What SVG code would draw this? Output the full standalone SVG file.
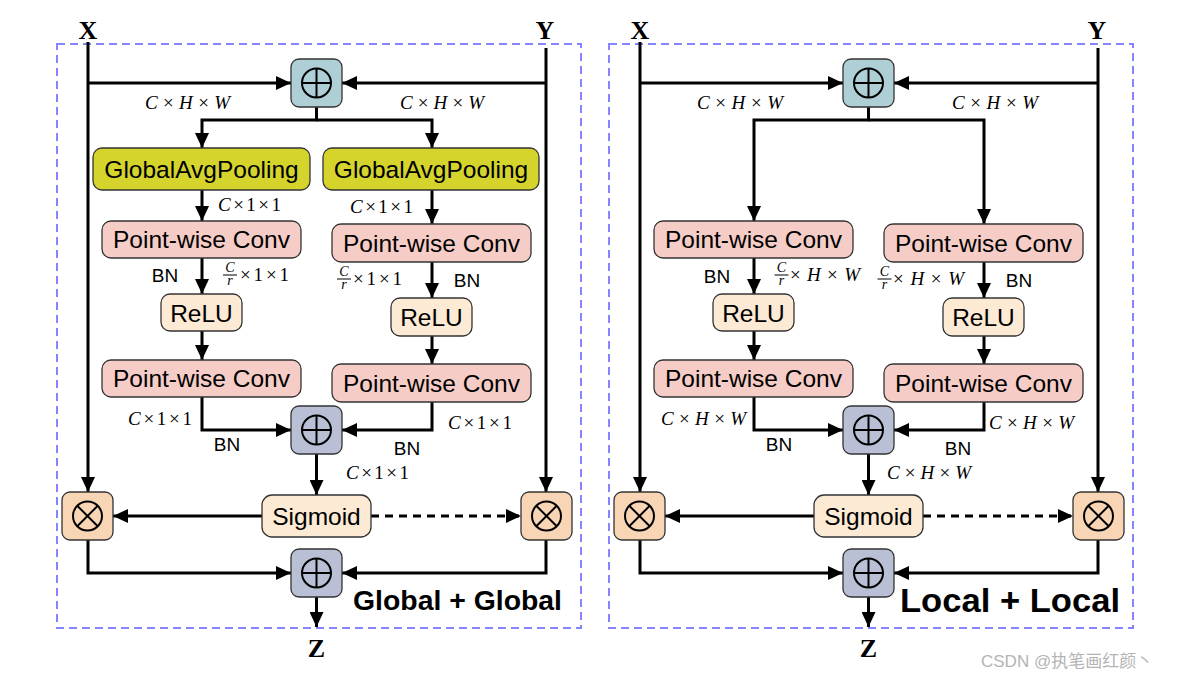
<svg xmlns="http://www.w3.org/2000/svg" xmlns:xlink="http://www.w3.org/1999/xlink" width="1180" height="679" viewBox="0 0 1180 679">
<style>
.frame{fill:none;stroke:#8585ff;stroke-width:2;stroke-dasharray:8,5}
.box{stroke:#333;stroke-width:1.3}
.gap{fill:#d4d42c}
.pw{fill:#f6cdc6}
.soft{fill:#fdead5}
.mul{fill:#f8d5b5}
.addt{fill:#aecfd5}
.addg{fill:#b9c0d5}
.lbl{font-family:"Liberation Sans",Arial,sans-serif;font-size:24.5px;text-anchor:middle;fill:#000}
.bn{font-family:"Liberation Sans",Arial,sans-serif;font-size:19px;text-anchor:middle;fill:#000}
.m{font-family:"Liberation Serif","Times New Roman",serif;font-size:19px;fill:#000}
.i{font-style:italic}
.fr{font-family:"Liberation Serif","Times New Roman",serif;font-size:14px;font-style:italic;text-anchor:middle}
.bar{stroke:#000;stroke-width:1}
.io{font-family:"Liberation Serif","Times New Roman",serif;font-size:26px;font-weight:bold;text-anchor:middle}
.title{font-family:"Liberation Sans",Arial,sans-serif;font-weight:bold;fill:#000}
.conn path{fill:none;stroke:#000;stroke-width:3;marker-end:url(#ah)}
.conn path.plain{marker-end:none}
.conn path.dash{stroke-dasharray:8,6}
.sym{fill:none;stroke:#000;stroke-width:2}
</style>
<defs>
<marker id="ah" markerUnits="userSpaceOnUse" markerWidth="15" markerHeight="14" refX="15" refY="7" orient="auto">
<path d="M0,0 L15,7 L0,14 z" fill="#000"/>
</marker>
<g id="oplus"><circle class="sym" r="14.5"/><path class="sym" d="M-14.5,0H14.5M0,-14.5V14.5"/></g>
<g id="otimes"><circle class="sym" r="14.5"/><path class="sym" d="M-10.25,-10.25L10.25,10.25M-10.25,10.25L10.25,-10.25"/></g>
</defs>
<rect width="1180" height="679" fill="#fff"/>

<!-- frames -->
<rect class="frame" x="57" y="44" width="524" height="584"/>
<rect class="frame" x="609" y="44" width="524" height="584"/>

<!-- connectors -->
<g id="connectors" class="conn">
<!-- left panel -->
<path d="M88,42 V492"/>
<path d="M88,83 H291"/>
<path d="M546,48 V492"/>
<path d="M546,83 H342"/>
<path d="M316.5,107 V120 H202 V148"/>
<path d="M316.5,120 H432 V148"/>
<path d="M202,190 V221"/>
<path d="M432,190 V224"/>
<path d="M202,258 V294"/>
<path d="M432,262 V298"/>
<path d="M202,331 V360"/>
<path d="M432,336 V364"/>
<path d="M202,397 V430 H291"/>
<path d="M432,402 V430 H342"/>
<path d="M316.5,454 V495"/>
<path d="M262,516 H113"/>
<path class="dash" d="M371,516 H521"/>
<path d="M88,540 V573 H291"/>
<path d="M546,540 V573 H342"/>
<path d="M316.5,597 V627"/>
<!-- right panel -->
<path d="M640,42 V492"/>
<path d="M640,83 H843"/>
<path d="M1098,48 V492"/>
<path d="M1098,83 H894"/>
<path d="M868.5,107 V120 H754 V221"/>
<path d="M868.5,120 H984 V224"/>
<path d="M754,258 V294"/>
<path d="M984,262 V298"/>
<path d="M754,331 V360"/>
<path d="M984,336 V364"/>
<path d="M754,397 V430 H843"/>
<path d="M984,402 V430 H894"/>
<path d="M868.5,454 V495"/>
<path d="M814,516 H665"/>
<path class="dash" d="M923,516 H1073"/>
<path d="M640,540 V573 H843"/>
<path d="M1098,540 V573 H894"/>
<path d="M868.5,597 V627"/>
</g>

<!-- ===== Left panel nodes ===== -->
<g id="L-add-top"><rect class="box addt" x="291" y="59" width="51" height="48" rx="8"/><use href="#oplus" x="316.5" y="83"/></g>
<g id="L-gap1"><rect class="box gap" x="93" y="148" width="217" height="42" rx="9"/><text class="lbl" x="201.5" y="178">GlobalAvgPooling</text></g>
<g id="L-gap2"><rect class="box gap" x="323" y="148" width="216" height="42" rx="9"/><text class="lbl" x="431" y="178">GlobalAvgPooling</text></g>
<g id="L-pw1a"><rect class="box pw" x="102" y="221" width="199" height="37" rx="9"/><text class="lbl" x="201.5" y="248">Point-wise Conv</text></g>
<g id="L-pw1b"><rect class="box pw" x="332" y="224" width="199" height="38" rx="9"/><text class="lbl" x="431.5" y="252">Point-wise Conv</text></g>
<g id="L-relu-a"><rect class="box soft" x="161" y="294" width="81" height="37" rx="9"/><text class="lbl" x="201.5" y="321.5">ReLU</text></g>
<g id="L-relu-b"><rect class="box soft" x="391" y="298" width="81" height="38" rx="9"/><text class="lbl" x="431.5" y="326">ReLU</text></g>
<g id="L-pw2a"><rect class="box pw" x="102" y="360" width="199" height="37" rx="9"/><text class="lbl" x="201.5" y="387">Point-wise Conv</text></g>
<g id="L-pw2b"><rect class="box pw" x="332" y="364" width="199" height="38" rx="9"/><text class="lbl" x="431.5" y="392">Point-wise Conv</text></g>
<g id="L-add-mid"><rect class="box addg" x="291" y="406" width="51" height="48" rx="8"/><use href="#oplus" x="316.5" y="430"/></g>
<g id="L-sigmoid"><rect class="box soft" x="262" y="495" width="109" height="42" rx="10"/><text class="lbl" x="316.5" y="525">Sigmoid</text></g>
<g id="L-mul-x"><rect class="box mul" x="62" y="492" width="51" height="48" rx="8"/><use href="#otimes" x="87.5" y="516"/></g>
<g id="L-mul-y"><rect class="box mul" x="521" y="492" width="51" height="48" rx="8"/><use href="#otimes" x="546.5" y="516"/></g>
<g id="L-add-out"><rect class="box addg" x="291" y="549" width="51" height="48" rx="8"/><use href="#oplus" x="316.5" y="573"/></g>

<!-- ===== Right panel nodes ===== -->
<g id="R-add-top"><rect class="box addt" x="843" y="59" width="51" height="48" rx="8"/><use href="#oplus" x="868.5" y="83"/></g>
<g id="R-pw1a"><rect class="box pw" x="654" y="221" width="199" height="37" rx="9"/><text class="lbl" x="753.5" y="248">Point-wise Conv</text></g>
<g id="R-pw1b"><rect class="box pw" x="884" y="224" width="199" height="38" rx="9"/><text class="lbl" x="983.5" y="252">Point-wise Conv</text></g>
<g id="R-relu-a"><rect class="box soft" x="713" y="294" width="81" height="37" rx="9"/><text class="lbl" x="753.5" y="321.5">ReLU</text></g>
<g id="R-relu-b"><rect class="box soft" x="943" y="298" width="81" height="38" rx="9"/><text class="lbl" x="983.5" y="326">ReLU</text></g>
<g id="R-pw2a"><rect class="box pw" x="654" y="360" width="199" height="37" rx="9"/><text class="lbl" x="753.5" y="387">Point-wise Conv</text></g>
<g id="R-pw2b"><rect class="box pw" x="884" y="364" width="199" height="38" rx="9"/><text class="lbl" x="983.5" y="392">Point-wise Conv</text></g>
<g id="R-add-mid"><rect class="box addg" x="843" y="406" width="51" height="48" rx="8"/><use href="#oplus" x="868.5" y="430"/></g>
<g id="R-sigmoid"><rect class="box soft" x="814" y="495" width="109" height="42" rx="10"/><text class="lbl" x="868.5" y="525">Sigmoid</text></g>
<g id="R-mul-x"><rect class="box mul" x="614" y="492" width="51" height="48" rx="8"/><use href="#otimes" x="639.5" y="516"/></g>
<g id="R-mul-y"><rect class="box mul" x="1073" y="492" width="51" height="48" rx="8"/><use href="#otimes" x="1098.5" y="516"/></g>
<g id="R-add-out"><rect class="box addg" x="843" y="549" width="51" height="48" rx="8"/><use href="#oplus" x="868.5" y="573"/></g>

<!-- ===== Labels ===== -->
<g id="labels">
<text class="io" x="88" y="39">X</text>
<text class="io" x="545" y="39">Y</text>
<text class="io" x="316.5" y="657">Z</text>
<text class="io" x="640" y="39">X</text>
<text class="io" x="1097" y="39">Y</text>
<text class="io" x="868.5" y="657">Z</text>

<!-- left panel math labels -->
<text class="m" x="145" y="109" textLength="85" lengthAdjust="spacing"><tspan class="i">C</tspan>×<tspan class="i">H</tspan>×<tspan class="i">W</tspan></text>
<text class="m" x="400" y="109" textLength="84" lengthAdjust="spacing"><tspan class="i">C</tspan>×<tspan class="i">H</tspan>×<tspan class="i">W</tspan></text>
<text class="m" x="218" y="211" textLength="63" lengthAdjust="spacing"><tspan class="i">C</tspan>×1×1</text>
<text class="m" x="350" y="213" textLength="63" lengthAdjust="spacing"><tspan class="i">C</tspan>×1×1</text>
<text class="bn" x="165" y="282">BN</text>
<text class="bn" x="467" y="287">BN</text>
<text class="fr" x="230" y="272">C</text><line class="bar" x1="223" y1="275" x2="237" y2="275"/><text class="fr" x="230" y="285">r</text>
<text class="m" x="240" y="281" textLength="49" lengthAdjust="spacing">×1×1</text>
<text class="fr" x="344" y="276">C</text><line class="bar" x1="337" y1="279" x2="351" y2="279"/><text class="fr" x="344" y="289">r</text>
<text class="m" x="353" y="285" textLength="49" lengthAdjust="spacing">×1×1</text>
<text class="m" x="128" y="425" textLength="64" lengthAdjust="spacing"><tspan class="i">C</tspan>×1×1</text>
<text class="m" x="448" y="429" textLength="64" lengthAdjust="spacing"><tspan class="i">C</tspan>×1×1</text>
<text class="bn" x="227" y="451">BN</text>
<text class="bn" x="407" y="455">BN</text>
<text class="m" x="346" y="479" textLength="63" lengthAdjust="spacing"><tspan class="i">C</tspan>×1×1</text>
<text class="title" x="353" y="610" font-size="28" textLength="209" lengthAdjust="spacingAndGlyphs">Global + Global</text>

<!-- right panel math labels -->
<text class="m" x="697" y="109" textLength="86" lengthAdjust="spacing"><tspan class="i">C</tspan>×<tspan class="i">H</tspan>×<tspan class="i">W</tspan></text>
<text class="m" x="952" y="109" textLength="86" lengthAdjust="spacing"><tspan class="i">C</tspan>×<tspan class="i">H</tspan>×<tspan class="i">W</tspan></text>
<text class="bn" x="717" y="283">BN</text>
<text class="bn" x="1019" y="287">BN</text>
<text class="fr" x="781.5" y="272">C</text><line class="bar" x1="774.5" y1="275" x2="788.5" y2="275"/><text class="fr" x="781.5" y="285">r</text>
<text class="m" x="790" y="281" textLength="70" lengthAdjust="spacing">×<tspan class="i">H</tspan>×<tspan class="i">W</tspan></text>
<text class="fr" x="884.5" y="276">C</text><line class="bar" x1="877.5" y1="279" x2="891.5" y2="279"/><text class="fr" x="884.5" y="289">r</text>
<text class="m" x="893" y="285" textLength="71" lengthAdjust="spacing">×<tspan class="i">H</tspan>×<tspan class="i">W</tspan></text>
<text class="m" x="661" y="425" textLength="85" lengthAdjust="spacing"><tspan class="i">C</tspan>×<tspan class="i">H</tspan>×<tspan class="i">W</tspan></text>
<text class="m" x="989" y="429" textLength="85" lengthAdjust="spacing"><tspan class="i">C</tspan>×<tspan class="i">H</tspan>×<tspan class="i">W</tspan></text>
<text class="bn" x="779" y="451">BN</text>
<text class="bn" x="958" y="455">BN</text>
<text class="m" x="887" y="479" textLength="84" lengthAdjust="spacing"><tspan class="i">C</tspan>×<tspan class="i">H</tspan>×<tspan class="i">W</tspan></text>
<text class="title" x="900" y="612" font-size="34" textLength="220" lengthAdjust="spacingAndGlyphs">Local + Local</text>

<text x="981" y="667" font-family="'Liberation Sans','Noto Sans CJK SC',sans-serif" font-size="17" fill="#b4b4b4">CSDN @执笔画红颜丶</text>
</g>
</svg>
